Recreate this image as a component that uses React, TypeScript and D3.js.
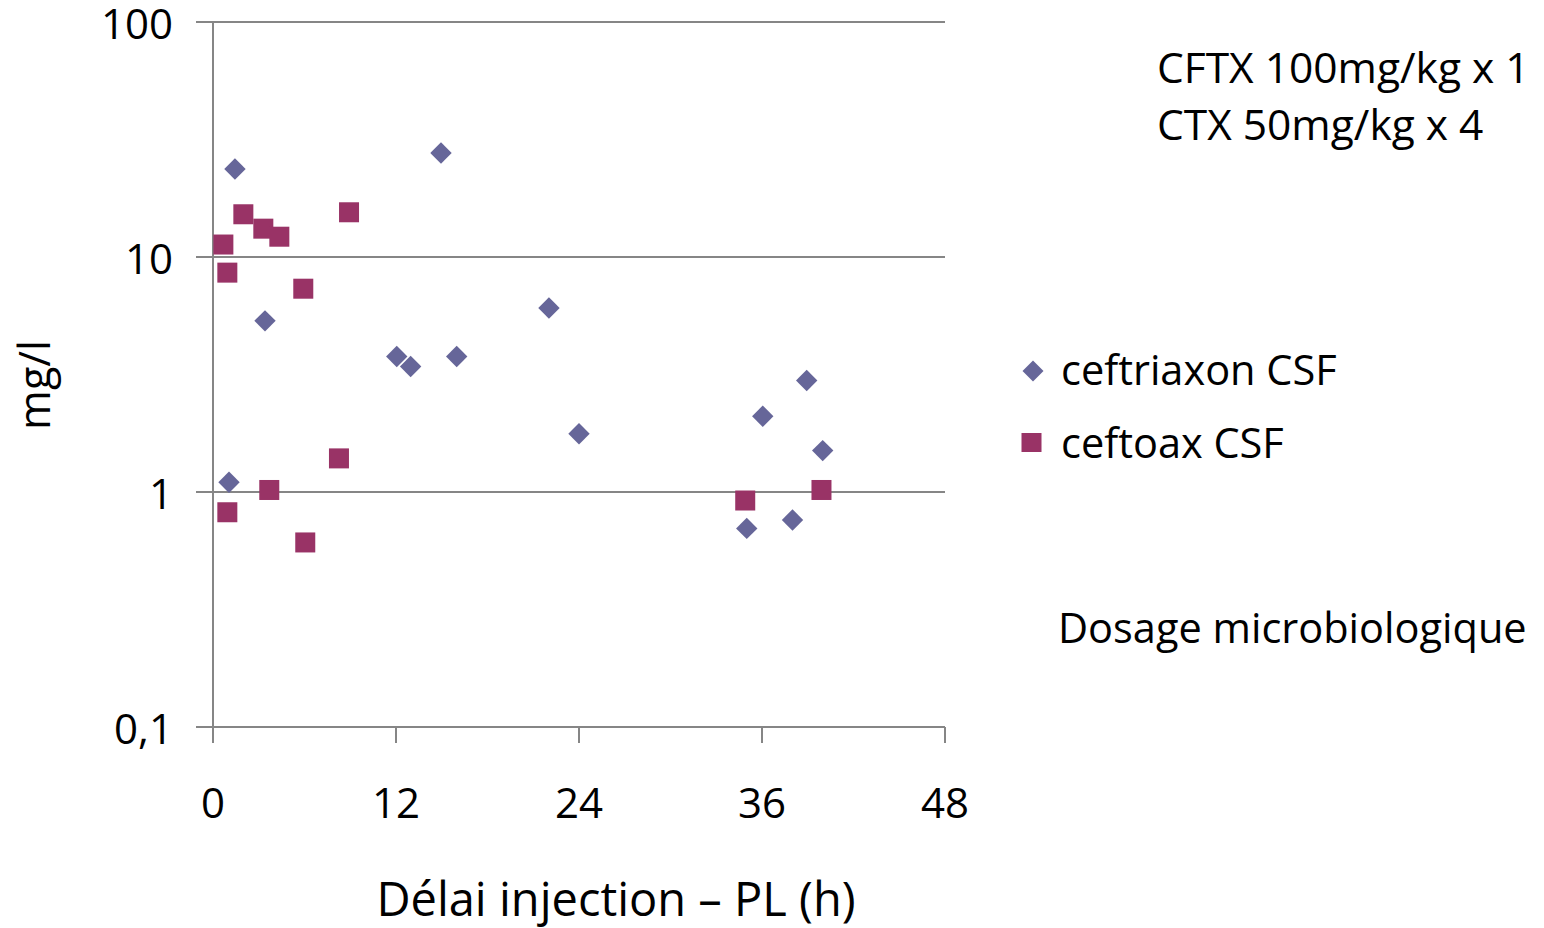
import React from "react";
import * as d3 from "d3";

const ceftriaxonX = [1.44, 14.95, 3.41, 12.05, 12.96, 15.98, 22.03, 24.0, 1.05, 38.93, 36.05, 39.98, 35.0, 38.0];
const ceftriaxonY = [23.7, 27.7, 5.35, 3.77, 3.42, 3.77, 6.07, 1.77, 1.1, 2.98, 2.1, 1.5, 0.7, 0.76];
const ceftoaxX = [1.99, 3.3, 4.35, 0.68, 8.92, 0.94, 5.92, 8.26, 3.69, 0.94, 6.05, 34.9, 39.9];
const ceftoaxY = [15.2, 13.2, 12.2, 11.3, 15.5, 8.58, 7.33, 1.39, 1.02, 0.82, 0.61, 0.92, 1.02];
const xTicks = [0, 12, 24, 36, 48];
const yTicks = [0.1, 1, 10, 100];
const yTickLabels = ["0,1", "1", "10", "100"];
const seriesNames = ["ceftriaxon CSF", "ceftoax CSF"];
const annotations = ["CFTX 100mg/kg x 1", "CTX 50mg/kg x 4"];

const FONT = "'Open Sans', Lato, sans-serif";
const GRID = "#868686";
const C1 = "#666699";
const C2 = "#993366";

export default function App() {
  const x = d3.scaleLinear().domain([0, 48]).range([213, 945]);
  const y = d3.scaleLog().domain([0.1, 100]).range([727, 22]);
  const diamond = (cx: number, cy: number, r: number) =>
    `M${cx},${cy - r}L${cx + r},${cy}L${cx},${cy + r}L${cx - r},${cy}Z`;
  const x0 = x(0);
  const x1 = x(48);
  return (
    <svg width={1544} height={928} style={{ position: "absolute", left: 0, top: 0 }} fontFamily={FONT}>
      <rect width={1544} height={928} fill="#fff" />
      {yTicks.map((t) => (
        <line key={"g" + t} x1={x0 - 17} x2={x1} y1={y(t)} y2={y(t)} stroke={GRID} strokeWidth={2} />
      ))}
      <line x1={x0} x2={x0} y1={y(100)} y2={y(0.1) + 16} stroke={GRID} strokeWidth={2} />
      {xTicks.slice(1).map((t) => (
        <line key={"t" + t} x1={x(t)} x2={x(t)} y1={y(0.1)} y2={y(0.1) + 16} stroke={GRID} strokeWidth={2} />
      ))}
      {yTicks.map((t, i) => (
        <text key={"yl" + t} x={173} y={y(t) + 17} textAnchor="end" fontSize={42} fill="#000">
          {yTickLabels[i]}
        </text>
      ))}
      {xTicks.map((t) => (
        <text key={"xl" + t} x={x(t)} y={818} textAnchor="middle" fontSize={42} fill="#000">
          {t}
        </text>
      ))}
      <text x={616} y={916} textAnchor="middle" fontSize={47} fill="#000">
        Délai injection – PL (h)
      </text>
      <text transform="translate(50,385) rotate(-90)" textAnchor="middle" fontSize={43} fill="#000">
        mg/l
      </text>
      {ceftriaxonX.map((v, i) => (
        <path key={"d" + i} d={diamond(x(v), y(ceftriaxonY[i]), 10.7)} fill={C1} />
      ))}
      {ceftoaxX.map((v, i) => (
        <rect key={"s" + i} x={x(v) - 10} y={y(ceftoaxY[i]) - 10} width={20} height={20} fill={C2} />
      ))}
      {annotations.map((a, i) => (
        <text key={"a" + i} x={1157} y={83 + i * 57} fontSize={42.5} fill="#000">
          {a}
        </text>
      ))}
      <path d={diamond(1033, 371, 10.5)} fill={C1} />
      <rect x={1021.5} y={433} width={20} height={19} fill={C2} />
      <text x={1061} y={385} fontSize={41.5} fill="#000">{seriesNames[0]}</text>
      <text x={1061} y={458} fontSize={41.5} fill="#000">{seriesNames[1]}</text>
      <text x={1058} y={643} fontSize={41.5} fill="#000">Dosage microbiologique</text>
    </svg>
  );
}
